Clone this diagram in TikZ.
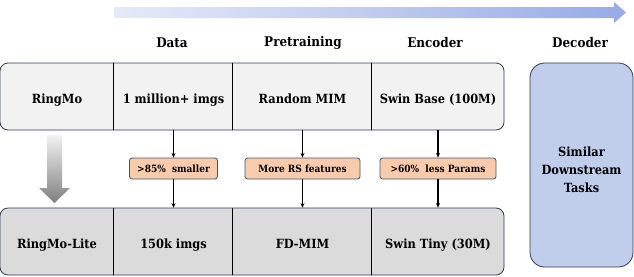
\documentclass[tikz,border=0pt]{standalone}
\usepackage{fontspec}
\setmainfont{DejaVu Serif Condensed}
\usetikzlibrary{arrows.meta, positioning}
\definecolor{edgeblue}{RGB}{47,60,82}
\definecolor{topgray}{RGB}{242,242,242}
\definecolor{litegray}{RGB}{220,219,219}
\definecolor{tagorange}{RGB}{248,203,173}
\definecolor{tagedge}{RGB}{68,84,106}
\definecolor{decblue}{RGB}{192,206,235}
\definecolor{flowlight}{RGB}{230,234,248}
\definecolor{flowdark}{RGB}{152,171,231}
\tikzstyle{cell}=[rectangle, inner sep=0pt, font=\fontsize{9.5}{12}\selectfont\bfseries,
  text centered, minimum height=50.25pt, text height=10.5pt, text depth=0pt]
\tikzstyle{head}=[font=\fontsize{10}{12}\selectfont\bfseries, inner sep=0pt]
\tikzstyle{tag}=[rectangle, rounded corners=2pt, draw=tagedge, fill=tagorange,
  line width=0.6pt, font=\fontsize{7.5}{9}\selectfont\bfseries,
  minimum height=15.75pt, inner sep=0pt]
\tikzstyle{rowbox}=[rounded corners=6pt, draw=edgeblue, line width=0.6pt]
\tikzstyle{sep}=[line width=0.75pt, black]
\tikzstyle{karr}=[-{Stealth[length=3.5pt,width=3pt]}, line width=0.8pt, black]

\begin{document}
\begin{tikzpicture}[x=0.75pt, y=-0.75pt]
        \useasboundingbox (0,0) rectangle (634,276);
        % flow arrow on top
        \shade[left color=flowlight, right color=flowdark]
          (114,7) -- (614,7) -- (614,2) -- (626,12.5) -- (614,23) -- (614,18) -- (114,18) -- cycle;
        \node[head] (hdata) at (172,43) {Data};
        \node[head] (hpre) at (303,43) {Pretraining};
        \node[head] (henc) at (435,43) {Encoder};
        \node[head] (hdec) at (580,43) {Decoder};
        % RingMo row
        \draw[rowbox, fill=topgray] (0,63) rectangle (504,130);
        \node[cell, minimum width=85.5pt] (rm0) at (57,96.5) {RingMo};
        \node[cell, minimum width=89.25pt] (rm1) at (173.5,96.5) {1 million+ imgs};
        \node[cell, minimum width=104.25pt] (rm2) at (302.5,96.5) {Random MIM};
        \node[cell, minimum width=99pt] (rm3) at (438,96.5) {Swin Base (100M)};
        \draw[sep] (rm1.north west) -- (rm1.south west);
        \draw[sep] (rm2.north west) -- (rm2.south west);
        \draw[sep] (rm3.north west) -- (rm3.south west);
        % RingMo-Lite row
        \draw[rowbox, fill=litegray] (0,208) rectangle (504,275);
        \node[cell, minimum width=85.5pt] (lt0) at (57,241.5) {RingMo-Lite};
        \node[cell, minimum width=89.25pt] (lt1) at (173.5,241.5) {150k imgs};
        \node[cell, minimum width=104.25pt] (lt2) at (302.5,241.5) {FD-MIM};
        \node[cell, minimum width=99pt] (lt3) at (438,241.5) {Swin Tiny (30M)};
        \draw[sep] (lt1.north west) -- (lt1.south west);
        \draw[sep] (lt2.north west) -- (lt2.south west);
        \draw[sep] (lt3.north west) -- (lt3.south west);
        % changes
        \node[tag, minimum width=66pt] (t1) at (173.5,168.5) {>85\%\ \ smaller};
        \node[tag, minimum width=86.25pt] (t2) at (302.5,168.5) {More RS features};
        \node[tag, minimum width=87pt] (t3) at (438,168.5) {>60\%\ \ less Params};
        \draw[karr] (rm1.south)--(t1.north);
        \draw[karr] (rm2.south)--(t2.north);
        \draw[karr] (rm3.south)--(t3.north);
        \draw[karr] (t1.south)--(lt1.north);
        \draw[karr] (t2.south)--(lt2.north);
        \draw[karr] (t3.south)--(lt3.north);
        % grey arrow
        \shade[top color=black!5, bottom color=black!50]
          (47,135) -- (62,135) -- (62,188) -- (70,188) -- (54.5,203) -- (39,188) -- (47,188) -- cycle;
        % decoder
        \node[rectangle, rounded corners=11pt, draw=edgeblue, fill=decblue, line width=0.6pt,
          minimum width=77.25pt, minimum height=153pt] (dec) at (581.5,165) {};
        \node[font=\fontsize{9.5}{13.5}\selectfont\bfseries, align=center]
          (dectxt) at (581.5,170) {Similar\\Downstream\\Tasks};
      \end{tikzpicture}
\end{document}
